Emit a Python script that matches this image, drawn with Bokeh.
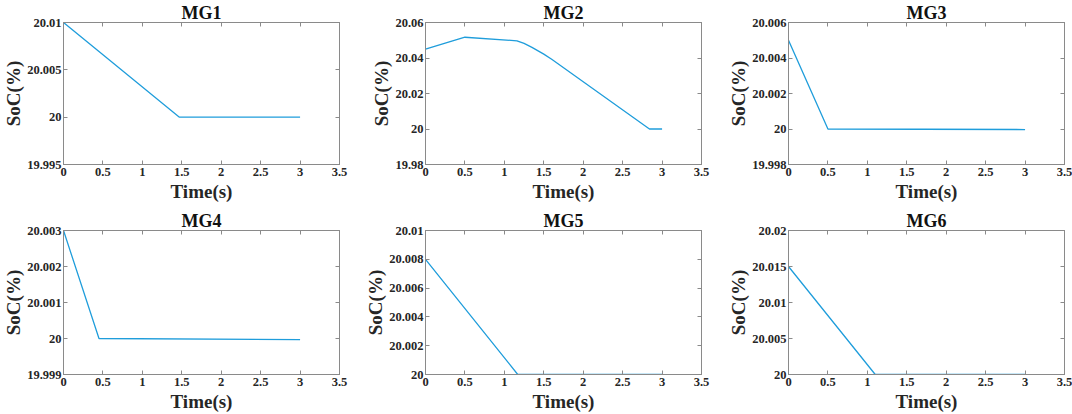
from bokeh.plotting import figure
from bokeh.layouts import column, row
from bokeh.models import Range1d, LinearAxis, FixedTicker, CustomJSTickFormatter
from bokeh.embed import file_html
from bokeh.resources import INLINE

# ---------------- data ----------------
titles = ["MG1", "MG2", "MG3", "MG4", "MG5", "MG6"]

t_mg1 = [0.0, 1.47, 3.0]
soc_mg1 = [20.010, 20.000, 20.000]

t_mg2 = [0.0, 0.5, 1.16, 1.25, 1.35, 1.5, 1.6, 2.84, 3.0]
soc_mg2 = [20.045, 20.0517, 20.0497, 20.0482, 20.0460, 20.0422, 20.0393, 20.000, 20.000]

t_mg3 = [0.0, 0.5, 3.0]
soc_mg3 = [20.005, 20.000, 19.99997]

t_mg4 = [0.0, 0.45, 3.0]
soc_mg4 = [20.003, 20.000, 19.99997]

t_mg5 = [0.0, 1.17, 3.0]
soc_mg5 = [20.008, 20.000, 20.000]

t_mg6 = [0.0, 1.1, 3.0]
soc_mg6 = [20.015, 20.000, 20.000]

x_ticks = [0, 0.5, 1, 1.5, 2, 2.5, 3, 3.5]
x_tick_labels = ["0", "0.5", "1", "1.5", "2", "2.5", "3", "3.5"]

y_ticks_mg1 = [19.995, 20.0, 20.005, 20.01]
y_labels_mg1 = ["19.995", "20", "20.005", "20.01"]
y_ticks_mg2 = [19.98, 20.0, 20.02, 20.04, 20.06]
y_labels_mg2 = ["19.98", "20", "20.02", "20.04", "20.06"]
y_ticks_mg3 = [19.998, 20.0, 20.002, 20.004, 20.006]
y_labels_mg3 = ["19.998", "20", "20.002", "20.004", "20.006"]
y_ticks_mg4 = [19.999, 20.0, 20.001, 20.002, 20.003]
y_labels_mg4 = ["19.999", "20", "20.001", "20.002", "20.003"]
y_ticks_mg5 = [20.0, 20.002, 20.004, 20.006, 20.008, 20.01]
y_labels_mg5 = ["20", "20.002", "20.004", "20.006", "20.008", "20.01"]
y_ticks_mg6 = [20.0, 20.005, 20.01, 20.015, 20.02]
y_labels_mg6 = ["20", "20.005", "20.01", "20.015", "20.02"]

x_label = "Time(s)"
y_label = "SoC(%)"

# ---------------- style ----------------
FONT = "Liberation Serif"
LINE_COLOR = "#1f9ddb"
FRAME_COLOR = "#8a8a8a"
TEXT_COLOR = "#262626"


def style_axis(ax, ticks, labels, show_labels=True):
    ax.ticker = FixedTicker(ticks=ticks)
    ax.minor_tick_line_color = None
    ax.major_tick_in = 4
    ax.major_tick_out = 0
    ax.major_tick_line_color = FRAME_COLOR
    ax.axis_line_color = FRAME_COLOR
    ax.major_label_text_font = FONT
    ax.major_label_text_font_style = "bold"
    ax.major_label_text_color = TEXT_COLOR
    ax.major_label_text_font_size = "12.5px"
    if show_labels:
        ax.major_label_overrides = {tv: lb for tv, lb in zip(ticks, labels)}
        ax.major_label_standoff = 3
    else:
        ax.formatter = CustomJSTickFormatter(code="return '';")
        ax.major_label_standoff = 0


def make_panel(title, t, soc, y_ticks, y_labels, width, height,
               left, right, top, bottom):
    p = figure(width=width, height=height, output_backend="svg",
               toolbar_location=None,
               x_range=Range1d(x_ticks[0], x_ticks[-1]),
               y_range=Range1d(y_ticks[0], y_ticks[-1]),
               min_border_left=left, min_border_right=right,
               min_border_top=top, min_border_bottom=bottom)
    p.grid.visible = False
    p.outline_line_color = FRAME_COLOR
    p.background_fill_color = "white"
    p.border_fill_color = "white"

    p.title.text = title
    p.title.align = "center"
    p.title.text_font = FONT
    p.title.text_font_style = "bold"
    p.title.text_font_size = "18px"
    p.title.text_color = "#111111"
    p.title.standoff = 0
    p.title.offset = 0

    style_axis(p.xaxis[0], x_ticks, x_tick_labels)
    style_axis(p.yaxis[0], y_ticks, y_labels)
    p.yaxis[0].major_label_standoff = 2
    p.xaxis[0].axis_label = x_label
    p.yaxis[0].axis_label = y_label
    for ax in (p.xaxis[0], p.yaxis[0]):
        ax.axis_label_text_font = FONT
        ax.axis_label_text_font_style = "bold"
        ax.axis_label_text_font_size = "19px"
        ax.axis_label_text_color = TEXT_COLOR
    p.xaxis[0].axis_label_standoff = 2
    p.yaxis[0].axis_label_standoff = 0

    top_ax = LinearAxis()
    style_axis(top_ax, x_ticks, x_tick_labels, show_labels=False)
    p.add_layout(top_ax, "above")
    right_ax = LinearAxis()
    style_axis(right_ax, y_ticks, y_labels, show_labels=False)
    p.add_layout(right_ax, "right")

    p.line(t, soc, line_color=LINE_COLOR, line_width=1.3)
    return p


ROW1_H = 206
ROW2_H = 208

p1 = make_panel(titles[0], t_mg1, soc_mg1, y_ticks_mg1, y_labels_mg1,
                362, ROW1_H, 62, 23, 21, 42)
p2 = make_panel(titles[1], t_mg2, soc_mg2, y_ticks_mg2, y_labels_mg2,
                358, ROW1_H, 63, 19, 21, 42)
p3 = make_panel(titles[2], t_mg3, soc_mg3, y_ticks_mg3, y_labels_mg3,
                352, ROW1_H, 68, 8, 21, 42)
p4 = make_panel(titles[3], t_mg4, soc_mg4, y_ticks_mg4, y_labels_mg4,
                362, ROW2_H, 62, 23, 24, 40)
p5 = make_panel(titles[4], t_mg5, soc_mg5, y_ticks_mg5, y_labels_mg5,
                358, ROW2_H, 63, 19, 24, 40)
p6 = make_panel(titles[5], t_mg6, soc_mg6, y_ticks_mg6, y_labels_mg6,
                352, ROW2_H, 68, 8, 24, 40)

layout = column(row(p1, p2, p3), row(p4, p5, p6))

with open("out.html", "w") as f:
    f.write(file_html(layout, INLINE))
